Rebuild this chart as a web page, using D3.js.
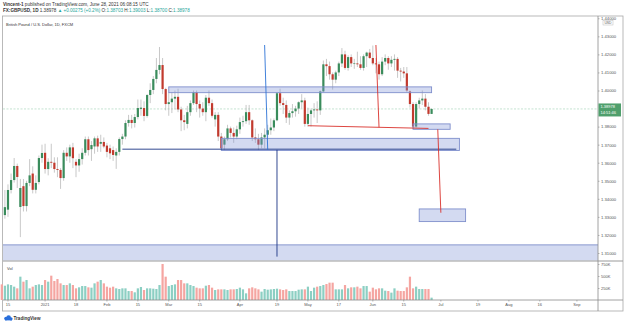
<!DOCTYPE html>
<html>
<head>
<meta charset="utf-8">
<script src="https://cdn.jsdelivr.net/npm/d3@7"></script>
<style>
  body { margin: 0; background: #fff; }
  svg { display: block; font-family: "Liberation Sans", Arial, sans-serif; }
</style>
</head>
<body>
<svg id="chart" width="625" height="325"></svg>
<script>
// ---- data (daily FX:GBPUSD) ----
const dates = [
  "2020-12-11","2020-12-14","2020-12-15","2020-12-16","2020-12-17","2020-12-18","2020-12-21","2020-12-22","2020-12-23","2020-12-24","2020-12-28","2020-12-29","2020-12-30","2020-12-31",
  "2021-01-04","2021-01-05","2021-01-06","2021-01-07","2021-01-08","2021-01-11","2021-01-12","2021-01-13","2021-01-14","2021-01-15","2021-01-18","2021-01-19","2021-01-20","2021-01-21","2021-01-22","2021-01-25","2021-01-26","2021-01-27","2021-01-28","2021-01-29",
  "2021-02-01","2021-02-02","2021-02-03","2021-02-04","2021-02-05","2021-02-08","2021-02-09","2021-02-10","2021-02-11","2021-02-12","2021-02-15","2021-02-16","2021-02-17","2021-02-18","2021-02-19","2021-02-22","2021-02-23","2021-02-24","2021-02-25","2021-02-26",
  "2021-03-01","2021-03-02","2021-03-03","2021-03-04","2021-03-05","2021-03-08","2021-03-09","2021-03-10","2021-03-11","2021-03-12","2021-03-15","2021-03-16","2021-03-17","2021-03-18","2021-03-19","2021-03-22","2021-03-23","2021-03-24","2021-03-25","2021-03-26","2021-03-29","2021-03-30","2021-03-31",
  "2021-04-01","2021-04-02","2021-04-05","2021-04-06","2021-04-07","2021-04-08","2021-04-09","2021-04-12","2021-04-13","2021-04-14","2021-04-15","2021-04-16","2021-04-19","2021-04-20","2021-04-21","2021-04-22","2021-04-23","2021-04-26","2021-04-27","2021-04-28","2021-04-29","2021-04-30",
  "2021-05-03","2021-05-04","2021-05-05","2021-05-06","2021-05-07","2021-05-10","2021-05-11","2021-05-12","2021-05-13","2021-05-14","2021-05-17","2021-05-18","2021-05-19","2021-05-20","2021-05-21","2021-05-24","2021-05-25","2021-05-26","2021-05-27","2021-05-28","2021-05-31",
  "2021-06-01","2021-06-02","2021-06-03","2021-06-04","2021-06-07","2021-06-08","2021-06-09","2021-06-10","2021-06-11","2021-06-14","2021-06-15","2021-06-16","2021-06-17","2021-06-18","2021-06-21","2021-06-22","2021-06-23","2021-06-24","2021-06-25","2021-06-28"
];
const opens = [
  1.3294,1.3310,1.3340,1.3449,1.3504,1.3582,1.3355,1.3470,1.3360,1.3488,1.3540,1.3450,1.3493,1.3626,
  1.3655,1.3565,1.3605,1.3600,1.3565,1.3560,1.3515,1.3655,1.3635,1.3685,1.3605,1.3585,1.3620,1.3655,1.3730,1.3675,1.3690,1.3735,1.3705,1.3715,
  1.3695,1.3680,1.3670,1.3640,1.3660,1.3731,1.3745,1.3820,1.3837,1.3820,1.3853,1.3898,1.3903,1.3859,1.3975,1.4003,1.4064,1.4114,1.4141,1.4008,
  1.3925,1.3935,1.3955,1.3965,1.3895,1.3835,1.3815,1.3880,1.3930,1.3990,1.3925,1.3900,1.3880,1.3960,1.3930,1.3840,1.3865,1.3745,1.3700,1.3730,1.3790,1.3765,1.3745,
  1.3785,1.3825,1.3830,1.3880,1.3835,1.3740,1.3730,1.3700,1.3740,1.3755,1.3780,1.3795,1.3835,1.3985,1.3930,1.3920,1.3850,1.3875,1.3885,1.3900,1.3935,1.3945,
  1.3815,1.3870,1.3890,1.3895,1.3890,1.3995,1.4145,1.4135,1.4090,1.4060,1.4100,1.4150,1.4200,1.4125,1.4185,1.4150,1.4150,1.4145,1.4125,1.4190,1.4210,
  1.4180,1.4150,1.4145,1.4090,1.4160,1.4180,1.4150,1.4170,1.4175,1.4110,1.4105,1.4095,1.3995,1.3925,1.3800,1.3925,1.3945,1.3955,1.3910,1.38703
];
const highs = [
  1.3330,1.3449,1.3480,1.3540,1.3626,1.3595,1.3510,1.3510,1.3500,1.3620,1.3580,1.3530,1.3640,1.3700,
  1.3705,1.3625,1.3705,1.3630,1.3630,1.3570,1.3670,1.3685,1.3700,1.3710,1.3620,1.3650,1.3680,1.3745,1.3745,1.3720,1.3745,1.3750,1.3755,1.3740,
  1.3710,1.3700,1.3690,1.3680,1.3740,1.3760,1.3835,1.3865,1.3865,1.3870,1.3950,1.3950,1.3940,1.3980,1.4040,1.4080,1.4180,1.4241,1.4180,1.4015,
  1.3990,1.3990,1.4000,1.4010,1.3910,1.3865,1.3915,1.3945,1.4000,1.4000,1.3945,1.3935,1.3975,1.4000,1.3950,1.3880,1.3880,1.3765,1.3745,1.3810,1.3800,1.3795,1.3805,
  1.3850,1.3860,1.3920,1.3920,1.3840,1.3790,1.3760,1.3765,1.3790,1.3810,1.3845,1.3845,1.3990,1.4010,1.3960,1.3945,1.3890,1.3925,1.3915,1.3940,1.3980,1.3960,
  1.3905,1.3900,1.3930,1.3940,1.4000,1.4166,1.4175,1.4160,1.4100,1.4110,1.4160,1.4235,1.4220,1.4195,1.4200,1.4175,1.4215,1.4190,1.4200,1.4215,1.4230,
  1.4249,1.4180,1.4160,1.4185,1.4200,1.4190,1.4190,1.4200,1.4185,1.4125,1.4130,1.4130,1.4000,1.3935,1.3935,1.3960,1.4000,1.3980,1.3935,1.39003
];
const lows = [
  1.3200,1.3290,1.3300,1.3430,1.3490,1.3460,1.3188,1.3330,1.3330,1.3470,1.3430,1.3430,1.3480,1.3600,
  1.3540,1.3530,1.3570,1.3545,1.3520,1.3455,1.3500,1.3610,1.3600,1.3570,1.3520,1.3550,1.3590,1.3640,1.3640,1.3610,1.3650,1.3660,1.3660,1.3680,
  1.3630,1.3620,1.3610,1.3566,1.3640,1.3700,1.3730,1.3800,1.3790,1.3795,1.3840,1.3860,1.3830,1.3850,1.3930,1.3980,1.4040,1.4090,1.3980,1.3890,
  1.3860,1.3875,1.3895,1.3880,1.3775,1.3780,1.3790,1.3860,1.3920,1.3880,1.3850,1.3860,1.3830,1.3915,1.3850,1.3800,1.3720,1.3670,1.3670,1.3720,1.3740,1.3710,1.3730,
  1.3760,1.3800,1.3815,1.3810,1.3720,1.3710,1.3670,1.3680,1.3680,1.3740,1.3755,1.3775,1.3830,1.3915,1.3870,1.3820,1.3810,1.3850,1.3855,1.3870,1.3900,1.3800,
  1.3800,1.3800,1.3850,1.3820,1.3865,1.3990,1.4080,1.4060,1.4005,1.4040,1.4080,1.4130,1.4115,1.4110,1.4130,1.4120,1.4130,1.4115,1.4110,1.4130,1.4175,
  1.4140,1.4095,1.4060,1.4080,1.4140,1.4115,1.4130,1.4110,1.4070,1.4050,1.4070,1.3990,1.3905,1.3787,1.3795,1.3900,1.3920,1.3890,1.3860,1.38700
];
const closes = [
  1.3217,1.3354,1.3449,1.3504,1.3582,1.3521,1.3460,1.3360,1.3488,1.3530,1.3450,1.3488,1.3626,1.3654,
  1.3565,1.3605,1.3600,1.3565,1.3560,1.3515,1.3655,1.3635,1.3685,1.3625,1.3585,1.3620,1.3655,1.3730,1.3670,1.3698,1.3735,1.3690,1.3715,1.3690,
  1.3660,1.3652,1.3643,1.3660,1.3731,1.3745,1.3820,1.3837,1.3820,1.3853,1.3903,1.3905,1.3859,1.3975,1.4003,1.4064,1.4114,1.4141,1.4008,1.3925,
  1.3935,1.3955,1.3965,1.3895,1.3835,1.3825,1.3880,1.3930,1.3990,1.3925,1.3900,1.3880,1.3960,1.3930,1.3860,1.3865,1.3745,1.3680,1.3730,1.3790,1.3765,1.3745,1.3785,
  1.3825,1.3830,1.3880,1.3835,1.3740,1.3730,1.3700,1.3740,1.3755,1.3780,1.3795,1.3835,1.3985,1.3930,1.3920,1.3850,1.3875,1.3885,1.3900,1.3935,1.3945,1.3815,
  1.3870,1.3890,1.3895,1.3890,1.3995,1.4145,1.4135,1.4090,1.4060,1.4100,1.4150,1.4200,1.4125,1.4185,1.4150,1.4150,1.4145,1.4125,1.4190,1.4210,1.4180,
  1.4150,1.4145,1.4090,1.4160,1.4180,1.4150,1.4170,1.4175,1.4110,1.4105,1.4095,1.4000,1.3925,1.3800,1.3925,1.3945,1.3955,1.3910,1.38703,1.38978
];
// volume in thousands
const volumes = [
  326,298,326,312,278,243,486,382,416,243,278,312,326,312,
  416,382,507,396,437,347,312,312,347,312,243,264,291,291,264,257,347,382,416,347,
  278,257,278,243,229,243,243,187,187,160,243,271,208,243,243,236,229,312,750,486,
  291,312,326,416,416,347,347,312,291,257,243,243,298,312,257,208,222,222,222,208,222,222,229,
  257,222,139,243,264,243,222,174,229,215,222,229,236,222,208,222,187,187,187,215,222,222,
  278,187,257,278,291,312,333,361,361,222,222,222,312,243,264,264,278,243,291,291,174,
  257,222,243,243,194,187,153,243,194,187,187,264,486,243,278,229,229,229,229,49
];
const closedDays = ["2020-12-25", "2021-01-01"];

const priceTicks = [1.31, 1.32, 1.33, 1.34, 1.35, 1.36, 1.37, 1.38, 1.39, 1.40, 1.41, 1.42, 1.43, 1.44];
const volumeTicks = [250, 500, 750];
const timeTicks = [
  ["2020-12-15", "15"], ["2021-01-04", "2021"], ["2021-01-18", "18"], ["2021-02-01", "Feb"],
  ["2021-02-15", "15"], ["2021-03-01", "Mar"], ["2021-03-15", "15"], ["2021-04-01", "Apr"],
  ["2021-04-19", "19"], ["2021-05-03", "May"], ["2021-05-17", "17"], ["2021-06-01", "Jun"],
  ["2021-06-15", "15"], ["2021-07-01", "Jul"], ["2021-07-19", "19"], ["2021-08-02", "Aug"],
  ["2021-08-16", "16"], ["2021-09-01", "Sep"]
];

// user drawings: [from, to, top price, bottom price]
const zones = [
  ["2021-03-01", "2021-06-28", 1.4020, 1.3988],
  ["2021-03-24", "2021-07-09", 1.3735, 1.3668],
  ["2021-06-18", "2021-07-06", 1.3815, 1.3785],
  ["2021-06-22", "2021-07-13", 1.3344, 1.3274],
  ["2020-12-11", "2021-09-10", 1.3145, 1.3000]
];
// [date1, price1, date2, price2, kind]
const lines = [
  ["2021-02-08", 1.3675, "2021-07-08", 1.3675, "navy"],
  ["2021-04-13", 1.4252, "2021-04-14", 1.3671, "blue"],
  ["2021-04-19", 1.3671, "2021-04-19", 1.3080, "navy"],
  ["2021-05-03", 1.3805, "2021-06-25", 1.3790, "red"],
  ["2021-06-02", 1.4252, "2021-06-03", 1.3796, "red"],
  ["2021-06-30", 1.3785, "2021-07-01", 1.3323, "red"]
];

// ---- layout ----
var lineColor = { navy: "#1c3584", blue: "#2d73d6", red: "#d9312b" };
var upColor = "#3a8c5c", downColor = "#c23a2e";
var pane = { left: 3, right: 598, top: 16, bottom: 260.5 };
var volBase = 300;

var svg = d3.select("#chart");
var fmtDay = d3.timeFormat("%Y-%m-%d");

// trading-day calendar incl. the empty future part of the chart
var calendar = d3.timeDay.range(new Date(2020, 11, 11), new Date(2021, 8, 11))
  .filter(function(d) { return d.getDay() !== 0 && d.getDay() !== 6; })
  .map(fmtDay)
  .filter(function(d) { return closedDays.indexOf(d) < 0; });

var step = 3.092, firstCenter = 1.8;
var x = d3.scaleBand()
  .domain(calendar)
  .range([firstCenter - step / 2, firstCenter - step / 2 + calendar.length * step]);
var cx = function(d) { return x(d) + x.bandwidth() / 2; };

var y = d3.scaleLinear().domain([1.31, 1.40]).range([253, 90.5]);
var vy = d3.scaleLinear().domain([0, 750]).range([volBase, 264]);

var bars = dates.map(function(d, i) {
  return { date: d, o: opens[i], h: highs[i], l: lows[i], c: closes[i], v: volumes[i] };
});
var last = bars[bars.length - 1], prev = bars[bars.length - 2];

// ---- header ----
var head = svg.append("g").attr("fill", "#333").attr("font-size", 4.6);
var h1 = head.append("text").attr("x", 3).attr("y", 6.3);
h1.append("tspan").attr("font-weight", "bold").text("Vincent-1");
h1.append("tspan").text(" published on TradingView.com, June 28, 2021 06:08:15 UTC");

var f5 = d3.format(".5f");
var chg = last.c - prev.c;
var teal = "#26a69a";
var h2 = head.append("text").attr("x", 3).attr("y", 12.4);
h2.append("tspan").attr("font-weight", "bold").text("FX:GBPUSD, 1D");
h2.append("tspan").text("  " + f5(last.c) + " ");
h2.append("tspan").attr("fill", teal).text("\u25B2 +" + f5(chg) + " (+" + d3.format(".1%")(chg / prev.c) + ")");
[["O:", last.o], ["H:", last.h], ["L:", last.l], ["C:", last.c]].forEach(function(p) {
  h2.append("tspan").text("  " + p[0]);
  h2.append("tspan").attr("fill", teal).text(f5(p[1]));
});

// ---- frame ----
svg.append("rect")
  .attr("x", 2.5).attr("y", pane.top).attr("width", 620.5).attr("height", 295)
  .attr("fill", "none").attr("stroke", "#a8a8a8").attr("stroke-width", 0.8);

svg.append("text").attr("x", 6).attr("y", 25.6)
  .attr("font-size", 4).attr("fill", "#333")
  .text("British Pound / U.S. Dollar, 1D, FXCM");

svg.append("defs").append("clipPath").attr("id", "pricePane")
  .append("rect")
  .attr("x", pane.left).attr("y", pane.top)
  .attr("width", pane.right - pane.left).attr("height", pane.bottom - pane.top);

var gPrice = svg.append("g").attr("clip-path", "url(#pricePane)");

// last price line
gPrice.append("line")
  .attr("x1", pane.left).attr("x2", pane.right)
  .attr("y1", y(last.c)).attr("y2", y(last.c))
  .attr("stroke", "#b5dcc6").attr("stroke-width", 0.8)
  .attr("stroke-dasharray", "2,1.5");

// candles
var gCandle = gPrice.selectAll("g.candle")
  .data(bars)
  .enter()
  .append("g")
  .classed("candle", true);

gCandle.append("line")
  .attr("x1", function(d) { return cx(d.date); })
  .attr("x2", function(d) { return cx(d.date); })
  .attr("y1", function(d) { return y(d.h); })
  .attr("y2", function(d) { return y(d.l); })
  .attr("stroke", "#a3a3a3")
  .attr("stroke-width", 0.6);

gCandle.append("rect")
  .attr("x", function(d) { return cx(d.date) - 1.1; })
  .attr("width", 2.2)
  .attr("y", function(d) { return y(Math.max(d.o, d.c)); })
  .attr("height", function(d) { return Math.max(0.6, Math.abs(y(d.o) - y(d.c))); })
  .attr("fill", function(d) { return d.c >= d.o ? upColor : downColor; });

// zones
gPrice.selectAll("rect.zone")
  .data(zones)
  .enter()
  .append("rect")
  .classed("zone", true)
  .attr("x", function(z) { return cx(z[0]); })
  .attr("width", function(z) { return cx(z[1]) - cx(z[0]); })
  .attr("y", function(z) { return y(z[2]); })
  .attr("height", function(z) { return y(z[3]) - y(z[2]); })
  .attr("fill", "rgba(130,150,215,0.35)")
  .attr("stroke", "#7f8fcc")
  .attr("stroke-width", 0.9);

// trend lines
gPrice.selectAll("line.drawing")
  .data(lines)
  .enter()
  .append("line")
  .classed("drawing", true)
  .attr("x1", function(l) { return cx(l[0]); })
  .attr("y1", function(l) { return y(l[1]); })
  .attr("x2", function(l) { return cx(l[2]); })
  .attr("y2", function(l) { return y(l[3]); })
  .attr("stroke", function(l) { return lineColor[l[4]]; })
  .attr("stroke-width", 0.9);

// pane separator
svg.append("line")
  .attr("x1", pane.left).attr("x2", 623)
  .attr("y1", pane.bottom + 0.5).attr("y2", pane.bottom + 0.5)
  .attr("stroke", "#9a9a9a").attr("stroke-width", 1);

// ---- volume ----
svg.append("text").attr("x", 7).attr("y", 269.5)
  .attr("font-size", 4).attr("fill", "#444").text("Vol");

svg.append("g").selectAll("rect.vol")
  .data(bars)
  .enter()
  .append("rect")
  .classed("vol", true)
  .attr("x", function(d) { return cx(d.date) - 1.1; })
  .attr("width", 2.2)
  .attr("y", function(d) { return vy(d.v); })
  .attr("height", function(d) { return volBase - vy(d.v); })
  .attr("fill", function(d) { return d.c >= d.o ? "#8ccfc3" : "#f5a5a1"; });

// ---- axes ----
svg.append("line")
  .attr("x1", pane.right).attr("x2", pane.right)
  .attr("y1", pane.top).attr("y2", 311)
  .attr("stroke", "#8c8c8c").attr("stroke-width", 0.8);
svg.append("line")
  .attr("x1", pane.left).attr("x2", 623)
  .attr("y1", volBase).attr("y2", volBase)
  .attr("stroke", "#8c8c8c").attr("stroke-width", 0.8);

function styleAxis(g, size) {
  g.select(".domain").remove();
  g.selectAll("line").attr("stroke", "#888").attr("stroke-width", 0.6);
  g.selectAll("text").attr("fill", "#555").attr("font-size", size)
    .attr("font-family", "Liberation Sans, Arial, sans-serif");
}

// the price tick hidden under the last-price badge is left out
var shownPriceTicks = priceTicks.filter(function(t) {
  return Math.abs(y(t) - y(last.c)) > 7;
});

svg.append("g")
  .attr("transform", "translate(" + pane.right + ",0)")
  .call(d3.axisRight(y).tickValues(shownPriceTicks).tickFormat(d3.format(".5f")).tickSize(1.5).tickPadding(1.5))
  .call(styleAxis, 4.2);

svg.append("g")
  .attr("transform", "translate(" + pane.right + ",0)")
  .call(d3.axisRight(vy).tickValues(volumeTicks).tickFormat(function(d) { return d + "K"; }).tickSize(1.5).tickPadding(1.5))
  .call(styleAxis, 4);

svg.append("g")
  .attr("transform", "translate(0," + volBase + ")")
  .call(d3.axisBottom(x)
    .tickValues(timeTicks.map(function(t) { return t[0]; }))
    .tickFormat(function(d, i) { return timeTicks[i][1]; })
    .tickSize(1.5).tickPadding(1.5))
  .call(styleAxis, 4);

// currency badge
svg.append("rect").attr("x", 603).attr("y", 20.5).attr("width", 10).attr("height", 4.5)
  .attr("fill", "#fff").attr("stroke", "#bbb").attr("stroke-width", 0.5);
svg.append("text").attr("x", 608).attr("y", 24.1).attr("text-anchor", "middle")
  .attr("font-size", 3.4).attr("fill", "#555").text("USD");

// last price label
var py = y(last.c);
svg.append("rect").attr("x", 598.5).attr("y", py - 5.5).attr("width", 22.5).attr("height", 13)
  .attr("fill", "#4f9f6c");
svg.append("text").attr("x", 600.5).attr("y", py - 0.6)
  .attr("font-size", 4).attr("fill", "#fff").text(f5(last.c));
svg.append("text").attr("x", 600.5).attr("y", py + 5.2)
  .attr("font-size", 4).attr("fill", "#fff").text("14:51:46");

// ---- footer logo ----
var logo = svg.append("g").attr("fill", "#2a6fdb");
logo.append("circle").attr("cx", 6).attr("cy", 318.6).attr("r", 1.8);
logo.append("circle").attr("cx", 8.6).attr("cy", 317.6).attr("r", 2.3);
logo.append("circle").attr("cx", 11).attr("cy", 318.8).attr("r", 1.6);
logo.append("rect").attr("x", 5).attr("y", 318.6).attr("width", 7).attr("height", 1.8);
svg.append("text").attr("x", 13.5).attr("y", 320.2)
  .attr("font-size", 4.6).attr("font-weight", "bold").attr("fill", "#333").text("TradingView");
</script>
</body>
</html>
